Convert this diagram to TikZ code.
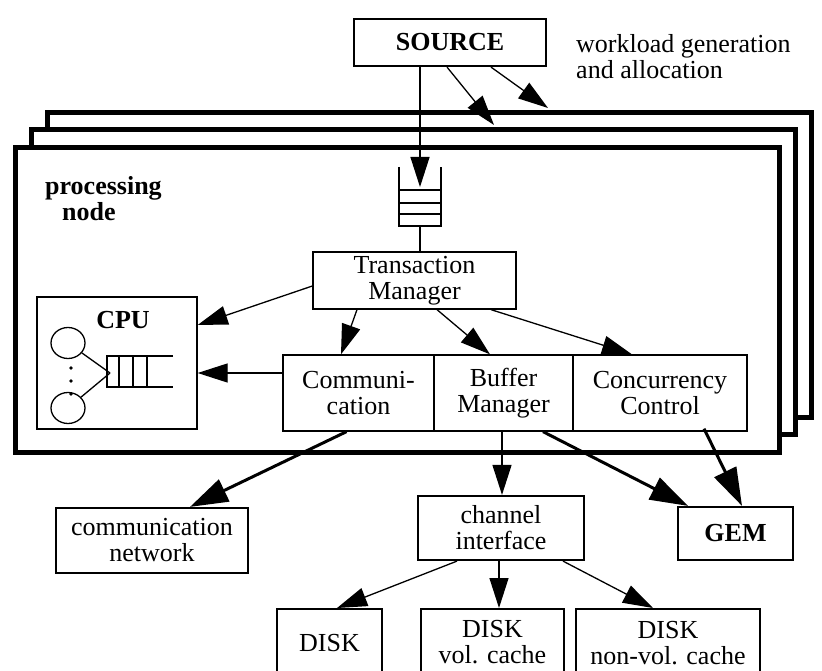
\documentclass[tikz,border=0pt]{standalone}
\usepackage{fontspec}
\setmainfont{Liberation Serif}
\usetikzlibrary{arrows.meta,shapes.geometric}

\begin{document}
\begin{tikzpicture}[x = 1pt, y = -1pt,
    every node/.style = {font = \fontsize{26}{26}\selectfont},
    bold/.style = {font = \fontsize{26}{26}\selectfont\bfseries},
    wire/.style = {line width = 1.3pt},
    thin box/.style = {draw, wire, inner sep = 0pt, align = center},
    thick box/.style = {draw, line width = 2.2pt, inner sep = 0pt, align = center},
    frame/.style = {draw, fill = white, line width = 5pt, minimum width = 764pt, minimum height = 304pt},
    arr/.style = {wire, -{Triangle[length = 30pt, width = 19pt]}},
    fat arr/.style = {line width = 3pt, -{Triangle[length = 38pt, width = 24pt]}}]
    \useasboundingbox (0,0) rectangle (822,671);
    \clip (0,0) rectangle (822,671);

    \node[frame] (F3) at (429.5,265) {};
    \node[frame] (F2) at (413,282) {};
    \node[frame] (F1) at (397,300) {};

    \node[thick box, bold, minimum width = 192pt, minimum height = 47pt] (S) at (450,42.5) {SOURCE};
    \node[anchor = west, align = left, inner sep = 0pt] (WL) at (576,56.5) {workload generation\\and allocation};
    \node[bold, anchor = west, align = left, inner sep = 0pt] (PN) at (45,199) {processing\\\hspace*{17pt}node};

    \coordinate (Q) at (420,167);
    \coordinate (QI) at (420,187);
    \coordinate (QB) at (420,226);
    \draw[wire] (399,167) -- (399,226) -- (441,226) -- (441,167);
    \foreach \y in {190,203,214} \draw[wire] (399,\y) -- (441,\y);

    \node[thin box, minimum width = 203pt, minimum height = 57pt] (TM) at (414.5,280.5) {Transaction\\Manager};

    \node[thin box, minimum width = 160pt, minimum height = 132pt] (CPU) at (117,363) {};
    \node[bold, inner sep = 0pt] (CPUL) at (123,320) {CPU};
    \node[draw, wire, ellipse, minimum width = 34pt, minimum height = 31pt, inner sep = 0pt] (P1) at (68,343) {};
    \node[draw, wire, ellipse, minimum width = 34pt, minimum height = 31pt, inner sep = 0pt] (P2) at (68,408) {};
    \foreach \y in {368,381,394} \fill (71,\y) circle [radius = 1.8pt];
    \draw[wire] (173,356) -- (107,356) -- (107,387) -- (173,387);
    \foreach \x in {119,133,147} \draw[wire] (\x,356) -- (\x,387);
    \coordinate (CQ) at (110,373);
    \draw[wire] (P1) -- (CQ);
    \draw[wire] (P2) -- (CQ);

    \node[thin box, minimum width = 151pt, minimum height = 76pt] (CO) at (358.5,393) {Communi-\\cation};
    \node[thin box, minimum width = 139pt, minimum height = 76pt] (BM) at (503.5,393) {Buffer\\Manager};
    \node[thin box, minimum width = 174pt, minimum height = 76pt] (CC) at (660,393) {Concurrency\\Control};

    \node[thick box, minimum width = 192pt, minimum height = 65pt] (CN) at (152,540.5) {communication\\network};
    \node[thick box, minimum width = 166pt, minimum height = 64pt] (CI) at (501,528) {channel\\interface};
    \node[thick box, bold, minimum width = 115pt, minimum height = 53pt] (GEM) at (735.5,533.5) {GEM};
    \node[thick box, anchor = north, minimum width = 105pt, minimum height = 68pt] (D1) at (329.5,608) {DISK};
    \node[thick box, anchor = north, minimum width = 143pt, minimum height = 66pt] (D2) at (492.5,608) {DISK\\vol. cache};
    \node[thick box, anchor = north, minimum width = 184pt, minimum height = 68pt] (D3) at (668,608) {DISK\\non-vol. cache};

    \draw[arr] ([xshift = -30pt]S.south) -- (QI);
    \draw[arr] ([xshift = -3pt]S.south) -- ([xshift = 81pt, yshift = 2.5pt]F2.north);
    \draw[arr] ([xshift = 41pt]S.south) -- ([xshift = 118.5pt, yshift = 2.5pt]F3.north);
    \draw[wire] (QB) -- (QB |- TM.north);

    \draw[arr] ([yshift = -5.5pt]TM.west) -- ([yshift = 38pt]CPU.east);
    \draw[arr] ([xshift = -57.5pt]TM.south) -- ([xshift = -17.5pt]CO.north);
    \draw[arr] ([xshift = 22.5pt]TM.south) -- ([xshift = -13.5pt]BM.north);
    \draw[arr] ([xshift = 76.5pt]TM.south) -- ([xshift = -28pt]CC.north);
    \draw[arr] ([yshift = 20pt]CO.west) -- ([yshift = 20pt]CO.west -| CPU.east);

    \draw[fat arr] ([xshift = -12pt]CO.south) -- ([xshift = 38pt]CN.north);
    \draw[arr] ([xshift = -1.5pt]BM.south) -- ([xshift = -1.5pt]BM.south |- CI.north);
    \draw[fat arr] ([xshift = 39.5pt]BM.south) -- ([xshift = -47.5pt]GEM.north);
    \draw[fat arr] ([xshift = 44pt, yshift = 3pt]CC.south) -- ([xshift = 6.5pt]GEM.north);

    \draw[arr] ([xshift = -44pt]CI.south) -- ([xshift = 7.5pt]D1.north);
    \draw[arr] ([xshift = -2pt]CI.south) -- ([xshift = 6.5pt]D2.north);
    \draw[arr] ([xshift = 62pt]CI.south) -- ([xshift = -15pt]D3.north);
\end{tikzpicture}
\end{document}
